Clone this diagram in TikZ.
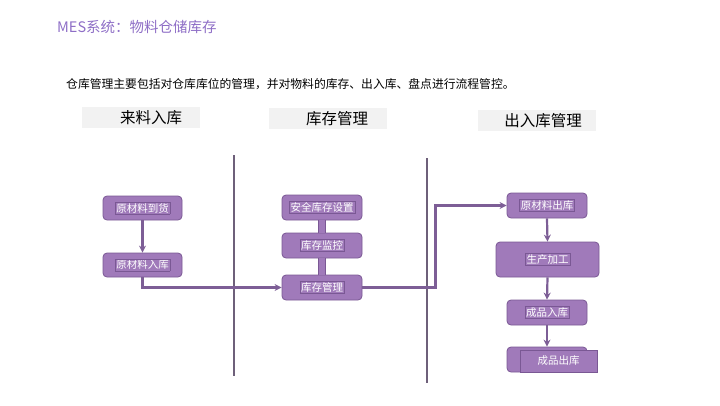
\documentclass[tikz,border=0pt]{standalone}
\usepackage{fontspec}
\setmainfont{Noto Sans CJK SC}
\usetikzlibrary{arrows.meta}

\definecolor{titlepurple}{RGB}{142,110,198}
\definecolor{boxfill}{RGB}{160,122,186}
\definecolor{boxline}{RGB}{122,88,148}
\definecolor{flowline}{RGB}{125,94,150}
\definecolor{sepline}{RGB}{110,96,122}
\definecolor{headgray}{RGB}{242,242,242}

\newcommand{\boxtxt}[1]{{\setlength\fboxsep{1pt}\setlength\fboxrule{0.4pt}\fcolorbox{boxline}{boxfill}{#1}}}

\begin{document}
\begin{tikzpicture}[x=1pt,y=-1pt]
	\tikzset{stepbox/.style={rectangle, rounded corners=4pt, fill=boxfill, draw=boxline, line width=0.8pt,
		minimum width=80pt, minimum height=25pt, inner sep=0pt, text=white, font=\fontsize{10.5}{12}\selectfont}}
	\tikzset{headbox/.style={rectangle, fill=headgray, minimum width=118pt, minimum height=21pt, inner sep=0pt}}
	\tikzset{headtext/.style={inner sep=0pt, font=\fontsize{15.5}{18}\selectfont}}
	\tikzset{flow/.style={flowline, line width=2.2pt, -{Stealth[length=7pt,width=7pt]}}}
	\tikzset{bar/.style={draw=boxline, line width=0.6pt, double=boxfill, double distance=6pt}}
	\tikzset{sep/.style={sepline, line width=1.1pt}}

	\useasboundingbox (0,0) rectangle (720,405);

	\node[anchor=west, text=titlepurple, inner sep=0pt, font=\fontsize{14.5}{17}\selectfont] (title) at (57,27) {MES系统：物料仓储库存};
	\node[anchor=west, inner sep=0pt, font=\fontsize{11.8}{14}\selectfont] (intro) at (66,84) {仓库管理主要包括对仓库库位的管理，并对物料的库存、出入库、盘点进行流程管控。};

	% column headers
	\node[headbox] (h1) at (141,117.5) {};
	\node[headtext] (h1t) at (151,118) {来料入库};
	\node[headbox] (h2) at (328,118.5) {};
	\node[headtext] (h2t) at (337,119) {库存管理};
	\node[headbox] (h3) at (537,120.5) {};
	\node[headtext] (h3t) at (543,121) {出入库管理};

	\coordinate (s1top) at (234,155);
	\coordinate (s1bot) at (234,376);
	\coordinate (s2top) at (427,158);
	\coordinate (s2bot) at (427,383);
	\draw[sep] (s1top) -- (s1bot);
	\draw[sep] (s2top) -- (s2bot);

	% incoming
	\node[stepbox, minimum width=79pt, minimum height=24pt] (daohuo) at (142.5,208) {\boxtxt{原材料到货}};
	\node[stepbox, minimum width=79pt, minimum height=24pt] (ruku) at (142.5,265) {\boxtxt{原材料入库}};

	% stock
	\node[stepbox] (anquan) at (322,207.5) {\boxtxt{安全库存设置}};
	\node[stepbox] (jiankong) at (322,245.5) {\boxtxt{库存监控}};
	\node[stepbox] (guanli) at (322,287.5) {\boxtxt{库存管理}};

	% outgoing
	\node[stepbox] (chuku) at (547,205.5) {\boxtxt{原材料出库}};
	\node[stepbox, minimum width=103pt, minimum height=35pt] (jiagong) at (547.5,259.5) {\boxtxt{生产加工}};
	\node[stepbox] (chengpin) at (547,312.5) {\boxtxt{成品入库}};
	\node[stepbox] (chuchang) at (547,359.5) {};
	\node[rectangle, fill=boxfill, draw=boxline, line width=0.6pt, minimum width=77pt, minimum height=22pt,
		inner sep=0pt, text=white, font=\fontsize{10.5}{12}\selectfont] (chuchangt) at (558.5,361) {成品出库\hspace{16pt}};

	\draw[bar] (anquan.south) -- (jiankong.north);
	\draw[bar] (jiankong.south) -- (guanli.north);

	\draw[flow] (daohuo.south) -- (ruku.north);
	\draw[flow] (ruku.south) |- (guanli.west);
	\draw[flow] (guanli.east) -- ([xshift=73pt]guanli.east) |- (chuku.west);
	\draw[flow] (chuku.south) -- (jiagong.north);
	\draw[flow] (jiagong.south) -- (chengpin.north);
	\draw[flow] (chengpin.south) -- (chuchang.north);
\end{tikzpicture}
\end{document}
